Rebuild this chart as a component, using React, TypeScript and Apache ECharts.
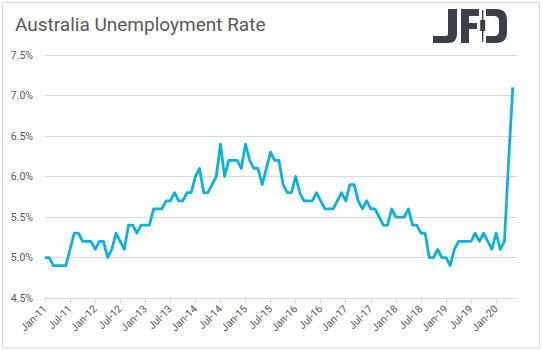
import React, { useEffect, useRef } from "react";
import * as echarts from "echarts";

const TITLE = "Australia Unemployment Rate";
const MONTHS = ["Jan", "Feb", "Mar", "Apr", "May", "Jun", "Jul", "Aug", "Sep", "Oct", "Nov", "Dec"];
const YEARS = ["11", "12", "13", "14", "15", "16", "17", "18", "19", "20"];
const LAST_MONTH_COUNT_2020 = 6; // axis runs Jan-11 .. Jun-20

// Unemployment rate (%) Jan-11 .. May-20
const RATE_2011 = [5.0, 5.0, 4.9, 4.9, 4.9, 4.9, 5.1, 5.3, 5.3, 5.2, 5.2, 5.2];
const RATE_2012 = [5.1, 5.2, 5.2, 5.0, 5.1, 5.3, 5.2, 5.1, 5.4, 5.4, 5.3, 5.4];
const RATE_2013 = [5.4, 5.4, 5.6, 5.6, 5.6, 5.7, 5.7, 5.8, 5.7, 5.7, 5.8, 5.8];
const RATE_2014 = [6.0, 6.1, 5.8, 5.8, 5.9, 6.0, 6.4, 6.0, 6.2, 6.2, 6.2, 6.1];
const RATE_2015 = [6.4, 6.2, 6.1, 6.1, 5.9, 6.1, 6.3, 6.2, 6.2, 5.9, 5.8, 5.8];
const RATE_2016 = [6.0, 5.8, 5.7, 5.7, 5.7, 5.8, 5.7, 5.6, 5.6, 5.6, 5.7, 5.8];
const RATE_2017 = [5.7, 5.9, 5.9, 5.7, 5.6, 5.7, 5.6, 5.6, 5.5, 5.4, 5.4, 5.6];
const RATE_2018 = [5.5, 5.5, 5.5, 5.6, 5.4, 5.4, 5.3, 5.3, 5.0, 5.0, 5.1, 5.0];
const RATE_2019 = [5.0, 4.9, 5.1, 5.2, 5.2, 5.2, 5.2, 5.3, 5.2, 5.3, 5.2, 5.1];
const RATE_2020 = [5.3, 5.1, 5.2, 6.2, 7.1];

const Y_MIN = 4.5;
const Y_MAX = 7.5;
const Y_STEP = 0.5;

const LINE_COLOR = "#0BB1DA";
const TEXT_COLOR = "#595959";
const GRID_COLOR = "#D9D9D9";
const LOGO_COLOR = "#3B4048";

const LOGO_J = "M448,9 H457 V34 Q457,43 448,43 H433 V36 H446 Q448,36 448,34 Z";
const LOGO_F = "M461,9 H479 V16 H469 V23 H477 V29 H469 V43 H461 Z";
const LOGO_D = "M486,9 H496 Q507,9 507,20 V32 Q507,43 496,43 H486 V36 H494 Q499,36 499,31 V21 Q499,16 494,16 H486 Z";

export default function App() {
  const ref = useRef<HTMLDivElement>(null);

  useEffect(() => {
    document.body.style.margin = "0";
    if (!ref.current) return;
    echarts.graphic.registerShape("logoJ", echarts.graphic.extendPath(LOGO_J, {}));
    echarts.graphic.registerShape("logoF", echarts.graphic.extendPath(LOGO_F, {}));
    echarts.graphic.registerShape("logoD", echarts.graphic.extendPath(LOGO_D, {}));

    const chart = echarts.init(ref.current, undefined, { renderer: "svg" });

    const categories: string[] = [];
    YEARS.forEach((y, yi) => {
      const n = yi === YEARS.length - 1 ? LAST_MONTH_COUNT_2020 : 12;
      for (let m = 0; m < n; m++) categories.push(`${MONTHS[m]}-${y}`);
    });
    const values: (number | null)[] = [
      ...RATE_2011, ...RATE_2012, ...RATE_2013, ...RATE_2014, ...RATE_2015,
      ...RATE_2016, ...RATE_2017, ...RATE_2018, ...RATE_2019, ...RATE_2020,
    ];
    while (values.length < categories.length) values.push(null);

    chart.setOption({
      animation: false,
      backgroundColor: "#FFFFFF",
      textStyle: { fontFamily: "Roboto" },
      grid: { left: 45, right: 26, top: 55, bottom: 53, containLabel: false },
      graphic: [
        {
          type: "rect",
          shape: { x: 2.5, y: 2.5, width: 537, height: 345.5 },
          style: { fill: "none", stroke: GRID_COLOR, lineWidth: 1 },
          silent: true,
        },
        {
          type: "text",
          left: 15,
          top: 15,
          style: { text: TITLE, fill: TEXT_COLOR, font: "19px Roboto" },
        },
        { type: "logoJ", x: 0, y: 0, style: { fill: LOGO_COLOR } },
        { type: "logoF", x: 0, y: 0, style: { fill: LOGO_COLOR } },
        { type: "logoD", x: 0, y: 0, style: { fill: LOGO_COLOR } },
        { type: "rect", shape: { x: 482, y: 10, width: 1.4, height: 32 }, style: { fill: LOGO_COLOR } },
        { type: "rect", shape: { x: 480.2, y: 20, width: 5, height: 11 }, style: { fill: LOGO_COLOR } },
      ],
      xAxis: {
        type: "category",
        data: categories,
        boundaryGap: false,
        axisLine: { show: true, lineStyle: { color: GRID_COLOR, width: 1 } },
        axisTick: { show: true, interval: 5, length: 5, lineStyle: { color: GRID_COLOR } },
        axisLabel: {
          interval: 5,
          rotate: 45,
          color: TEXT_COLOR,
          fontSize: 10.5,
          fontFamily: "Roboto",
          margin: 9,
        },
        splitLine: { show: false },
      },
      yAxis: {
        type: "value",
        min: Y_MIN,
        max: Y_MAX,
        interval: Y_STEP,
        axisLine: { show: false },
        axisTick: { show: false },
        axisLabel: {
          color: TEXT_COLOR,
          fontSize: 10.5,
          fontFamily: "Roboto",
          margin: 12,
          formatter: (v: number) => `${v.toFixed(1)}%`,
        },
        splitLine: { show: true, lineStyle: { color: GRID_COLOR, width: 1 } },
      },
      series: [
        {
          type: "line",
          data: values,
          showSymbol: false,
          symbol: "none",
          connectNulls: false,
          lineStyle: { color: LINE_COLOR, width: 2.75, join: "round" },
        },
      ],
    });

    return () => chart.dispose();
  }, []);

  return <div ref={ref} style={{ width: 543, height: 351 }} />;
}
